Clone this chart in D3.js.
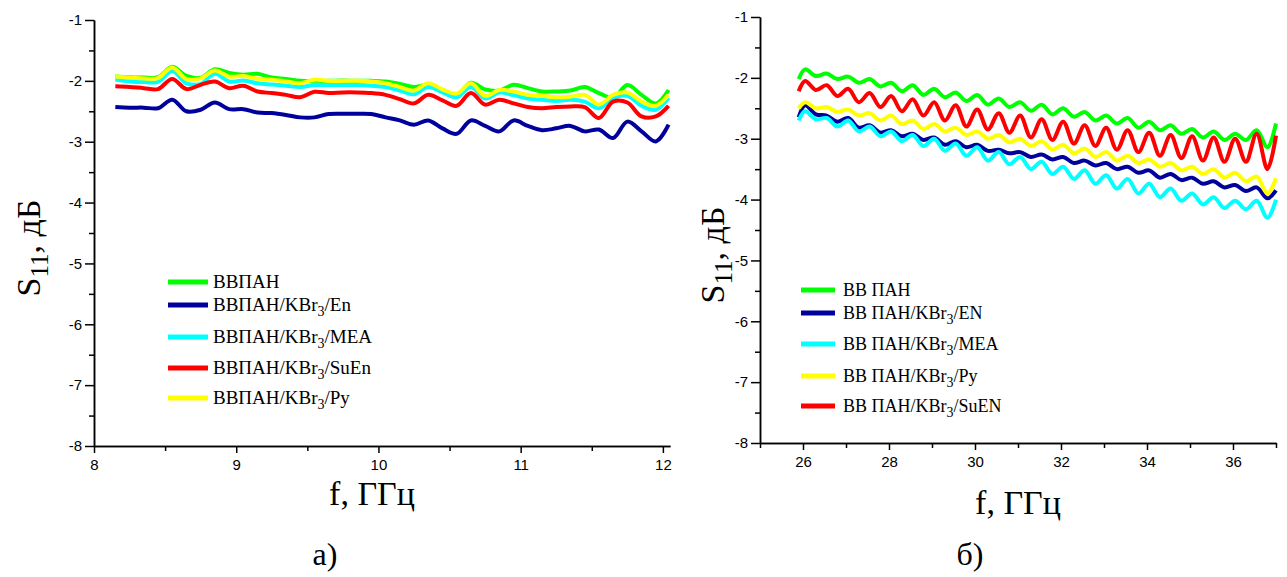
<!DOCTYPE html>
<meta charset="utf-8">
<title>S11 vs f</title>
<style>
body { margin: 0; background: #fff; }
.axis .domain, .axis .tick line { stroke: #000; stroke-width: 1.5px; }
.axis .tick text { font-family: "Liberation Sans", Arial, sans-serif; font-size: 15px; fill: #000; }
.title { font-family: "Liberation Serif", "Times New Roman", serif; fill: #000; }
.legend text { font-family: "Liberation Serif", "Times New Roman", serif; fill: #000; }
.series { fill: none; stroke-width: 4px; stroke-linejoin: round; }
</style>
<body>
<script src="https://cdn.jsdelivr.net/npm/d3@7/dist/d3.min.js"></script>
<script>

// ---- panel a) 8-12 GHz ----
var freqA = [8.15, 8.25, 8.35, 8.45, 8.55, 8.65, 8.75, 8.85, 8.95, 9.05,
             9.15, 9.25, 9.35, 9.45, 9.55, 9.65, 9.75, 9.85, 9.95, 10.05,
             10.15, 10.25, 10.35, 10.45, 10.55, 10.65, 10.75, 10.85, 10.95, 11.05,
             11.15, 11.25, 11.35, 11.45, 11.55, 11.65, 11.75, 11.85, 11.95, 12.04];

var a_pan  = [-1.93, -1.94, -1.945, -1.94, -1.77, -1.92, -1.95, -1.81, -1.87, -1.90,
              -1.885, -1.945, -1.97, -2.00, -2.00, -2.00, -1.995, -2.00, -2.00, -2.01,
              -2.05, -2.10, -2.065, -2.15, -2.23, -2.03, -2.14, -2.16, -2.065, -2.12,
              -2.175, -2.175, -2.16, -2.10, -2.20, -2.28, -2.07, -2.23, -2.37, -2.15];
var a_en   = [-2.43, -2.44, -2.44, -2.45, -2.31, -2.50, -2.475, -2.355, -2.465, -2.465,
              -2.52, -2.53, -2.56, -2.60, -2.60, -2.545, -2.54, -2.54, -2.545, -2.60,
              -2.65, -2.72, -2.65, -2.78, -2.87, -2.65, -2.74, -2.83, -2.65, -2.74,
              -2.81, -2.78, -2.74, -2.83, -2.80, -2.94, -2.67, -2.83, -2.995, -2.72];
var a_mea  = [-1.98, -2.01, -2.02, -2.015, -1.84, -2.04, -2.05, -1.885, -2.01, -1.995,
              -2.04, -2.06, -2.08, -2.10, -2.07, -2.07, -2.07, -2.07, -2.08, -2.10,
              -2.16, -2.22, -2.10, -2.19, -2.27, -2.10, -2.29, -2.19, -2.235, -2.29,
              -2.31, -2.33, -2.31, -2.34, -2.45, -2.28, -2.245, -2.41, -2.475, -2.28];
var a_suen = [-2.09, -2.10, -2.12, -2.135, -1.97, -2.135, -2.065, -2.01, -2.12, -2.08,
              -2.175, -2.20, -2.23, -2.27, -2.18, -2.20, -2.19, -2.19, -2.20, -2.23,
              -2.30, -2.37, -2.23, -2.32, -2.41, -2.20, -2.39, -2.31, -2.37, -2.43,
              -2.45, -2.43, -2.42, -2.43, -2.61, -2.34, -2.355, -2.585, -2.585, -2.41];
var a_py   = [-1.93, -1.945, -1.96, -1.955, -1.78, -1.97, -1.96, -1.83, -1.93, -1.92,
              -1.965, -1.98, -2.01, -2.04, -1.98, -2.00, -2.00, -2.00, -2.01, -2.04,
              -2.10, -2.16, -2.04, -2.14, -2.21, -2.04, -2.245, -2.15, -2.175, -2.23,
              -2.245, -2.27, -2.26, -2.23, -2.39, -2.23, -2.19, -2.34, -2.41, -2.23];

// ---- panel б) 26-37 GHz ----
var freqB = [25.9, 26.05, 26.3, 26.55, 26.8, 27.05, 27.3, 27.55, 27.8, 28.05,
             28.3, 28.55, 28.8, 29.05, 29.3, 29.55, 29.8, 30.05, 30.3, 30.55,
             30.8, 31.05, 31.3, 31.55, 31.8, 32.05, 32.3, 32.55, 32.8, 33.05,
             33.3, 33.55, 33.8, 34.05, 34.3, 34.55, 34.8, 35.05, 35.3, 35.55,
             35.8, 36.05, 36.3, 36.55, 36.8, 37.0];

var b_pan  = [-2.02, -1.86, -1.97, -1.93, -2.02, -1.98, -2.08, -2.02, -2.14, -2.08,
              -2.22, -2.12, -2.28, -2.18, -2.32, -2.24, -2.38, -2.28, -2.44, -2.34,
              -2.48, -2.40, -2.54, -2.44, -2.60, -2.50, -2.64, -2.56, -2.70, -2.62,
              -2.75, -2.66, -2.82, -2.72, -2.86, -2.78, -2.92, -2.84, -2.98, -2.88,
              -3.02, -2.92, -3.02, -2.86, -3.14, -2.75];
var b_en   = [-2.65, -2.45, -2.60, -2.62, -2.72, -2.66, -2.82, -2.78, -2.90, -2.86,
              -2.96, -2.92, -3.02, -2.98, -3.10, -3.04, -3.14, -3.10, -3.20, -3.18,
              -3.24, -3.22, -3.30, -3.26, -3.34, -3.30, -3.40, -3.36, -3.44, -3.40,
              -3.50, -3.46, -3.56, -3.52, -3.64, -3.58, -3.68, -3.64, -3.74, -3.70,
              -3.80, -3.76, -3.86, -3.80, -3.98, -3.85];
var b_mea  = [-2.70, -2.55, -2.68, -2.66, -2.80, -2.70, -2.88, -2.80, -2.96, -2.88,
              -3.04, -2.94, -3.12, -3.00, -3.20, -3.08, -3.28, -3.14, -3.36, -3.22,
              -3.42, -3.30, -3.50, -3.38, -3.58, -3.46, -3.66, -3.52, -3.74, -3.60,
              -3.82, -3.66, -3.90, -3.74, -3.96, -3.82, -4.02, -3.90, -4.08, -3.96,
              -4.14, -4.02, -4.16, -4.02, -4.30, -4.00];
var b_py   = [-2.50, -2.40, -2.50, -2.48, -2.56, -2.52, -2.62, -2.58, -2.70, -2.62,
              -2.76, -2.70, -2.84, -2.76, -2.88, -2.82, -2.94, -2.88, -3.00, -2.94,
              -3.06, -3.00, -3.12, -3.04, -3.18, -3.10, -3.24, -3.16, -3.30, -3.22,
              -3.36, -3.28, -3.40, -3.34, -3.46, -3.40, -3.52, -3.46, -3.58, -3.50,
              -3.64, -3.56, -3.70, -3.62, -3.90, -3.65];
var b_suen = [-2.22, -2.05, -2.20, -2.12, -2.30, -2.18, -2.40, -2.25, -2.48, -2.30,
              -2.55, -2.35, -2.62, -2.40, -2.70, -2.45, -2.80, -2.52, -2.85, -2.58,
              -2.90, -2.62, -2.98, -2.68, -3.02, -2.72, -3.08, -2.78, -3.12, -2.82,
              -3.18, -2.86, -3.22, -2.90, -3.28, -2.94, -3.32, -2.96, -3.36, -2.98,
              -3.38, -3.00, -3.38, -2.92, -3.50, -2.95];

var yTicks = [-1, -2, -3, -4, -5, -6, -7, -8];
var yMinor = [-1.5, -2.5, -3.5, -4.5, -5.5, -6.5, -7.5];

var colGreen = "#00ff00", colNavy = "#00009c", colCyan = "#00ffff",
    colRed = "#ff0000", colYellow = "#ffff00";

var panels = [
  {
    freq: freqA, xDomain: [8, 12.05], xRange: [94, 670], yRange: [446, 20],
    xTicks: [8, 9, 10, 11, 12], xMinor: [8.5, 9.5, 10.5, 11.5],
    series: [
      {name: ["ВВПАН"], vals: a_pan, color: colGreen},
      {name: ["ВВПАН/KBr", "3", "/En"], vals: a_en, color: colNavy},
      {name: ["ВВПАН/KBr", "3", "/MEA"], vals: a_mea, color: colCyan},
      {name: ["ВВПАН/KBr", "3", "/SuEn"], vals: a_suen, color: colRed},
      {name: ["ВВПАН/KBr", "3", "/Py"], vals: a_py, color: colYellow}
    ],
    legend: {x0: 168, x1: 208, tx: 213, size: 19, rows: [282, 305, 337, 368, 398]},
    yTitle: {x: 40, y: 248}, xTitle: {x: 372, y: 505},
    caption: {text: "а)", x: 325, y: 565}
  },
  {
    freq: freqB, xDomain: [25, 37], xRange: [760, 1276], yRange: [443, 17],
    xTicks: [26, 28, 30, 32, 34, 36], xMinor: [25, 27, 29, 31, 33, 35, 37],
    series: [
      {name: ["ВВ ПАН"], vals: b_pan, color: colGreen},
      {name: ["ВВ ПАН/KBr", "3", "/EN"], vals: b_en, color: colNavy},
      {name: ["ВВ ПАН/KBr", "3", "/MEA"], vals: b_mea, color: colCyan},
      {name: ["ВВ ПАН/KBr", "3", "/Py"], vals: b_py, color: colYellow},
      {name: ["ВВ ПАН/KBr", "3", "/SuEN"], vals: b_suen, color: colRed}
    ],
    legend: {x0: 801, x1: 835, tx: 843, size: 18, rows: [290, 313, 344, 376, 406]},
    yTitle: {x: 724, y: 255}, xTitle: {x: 1018, y: 514},
    caption: {text: "б)", x: 970, y: 565}
  }
];

var svg = d3.select("body").append("svg")
    .attr("width", 1287)
    .attr("height", 577);

panels.forEach(function(p) {
  var x = d3.scaleLinear().domain(p.xDomain).range(p.xRange);
  var y = d3.scaleLinear().domain([-8, -1]).range(p.yRange);
  var g = svg.append("g");

  var line = d3.line()
      .x(function(d) { return x(d[0]); })
      .y(function(d) { return y(d[1]); })
      .curve(d3.curveCatmullRom.alpha(0.5));

  g.selectAll("path.series")
    .data(p.series)
    .enter().append("path")
      .attr("class", "series")
      .attr("stroke", function(s) { return s.color; })
      .attr("d", function(s) { return line(p.freq.map(function(f, i) { return [f, s.vals[i]]; })); });

  // axes: major + minor ticks
  g.append("g").attr("class", "axis")
      .attr("transform", "translate(" + p.xRange[0] + ",0)")
      .call(d3.axisLeft(y).tickValues(yTicks).tickSize(9).tickSizeOuter(0).tickPadding(3)
            .tickFormat(function(d) { return String(d); }));
  g.append("g").attr("class", "axis")
      .attr("transform", "translate(" + p.xRange[0] + ",0)")
      .call(d3.axisLeft(y).tickValues(yMinor).tickSize(5).tickSizeOuter(0).tickFormat(""));
  g.append("g").attr("class", "axis")
      .attr("transform", "translate(0," + p.yRange[0] + ")")
      .call(d3.axisBottom(x).tickValues(p.xTicks).tickSize(7).tickSizeOuter(0).tickPadding(6)
            .tickFormat(function(d) { return String(d); }));
  g.append("g").attr("class", "axis")
      .attr("transform", "translate(0," + p.yRange[0] + ")")
      .call(d3.axisBottom(x).tickValues(p.xMinor).tickSize(5).tickSizeOuter(0).tickFormat(""));

  // titles
  var yt = g.append("text").attr("class", "title")
      .attr("transform", "translate(" + p.yTitle.x + "," + p.yTitle.y + ") rotate(-90)")
      .attr("text-anchor", "middle")
      .style("font-size", "34px");
  yt.append("tspan").text("S");
  yt.append("tspan").attr("dy", 8).style("font-size", "25px").text("11");
  yt.append("tspan").attr("dy", -8).text(", дБ");

  g.append("text").attr("class", "title")
      .attr("x", p.xTitle.x).attr("y", p.xTitle.y)
      .attr("text-anchor", "middle")
      .style("font-size", "34px")
      .text("f, ГГц");

  g.append("text").attr("class", "title")
      .attr("x", p.caption.x).attr("y", p.caption.y)
      .attr("text-anchor", "middle")
      .style("font-size", "32px")
      .text(p.caption.text);

  // legend
  var lg = g.append("g").attr("class", "legend")
    .selectAll("g")
    .data(p.series)
    .enter().append("g");
  lg.append("line")
      .attr("x1", p.legend.x0).attr("x2", p.legend.x1)
      .attr("y1", function(s, i) { return p.legend.rows[i]; })
      .attr("y2", function(s, i) { return p.legend.rows[i]; })
      .attr("stroke", function(s) { return s.color; })
      .attr("stroke-width", 5);
  var lt = lg.append("text")
      .attr("x", p.legend.tx)
      .attr("y", function(s, i) { return p.legend.rows[i] + 6; })
      .style("font-size", p.legend.size + "px");
  lt.each(function(s) {
    var t = d3.select(this);
    t.append("tspan").text(s.name[0]);
    if (s.name.length > 1) {
      t.append("tspan").attr("dy", 5).style("font-size", Math.round(p.legend.size * 0.75) + "px").text(s.name[1]);
      t.append("tspan").attr("dy", -5).text(s.name[2]);
    }
  });
});

</script>
